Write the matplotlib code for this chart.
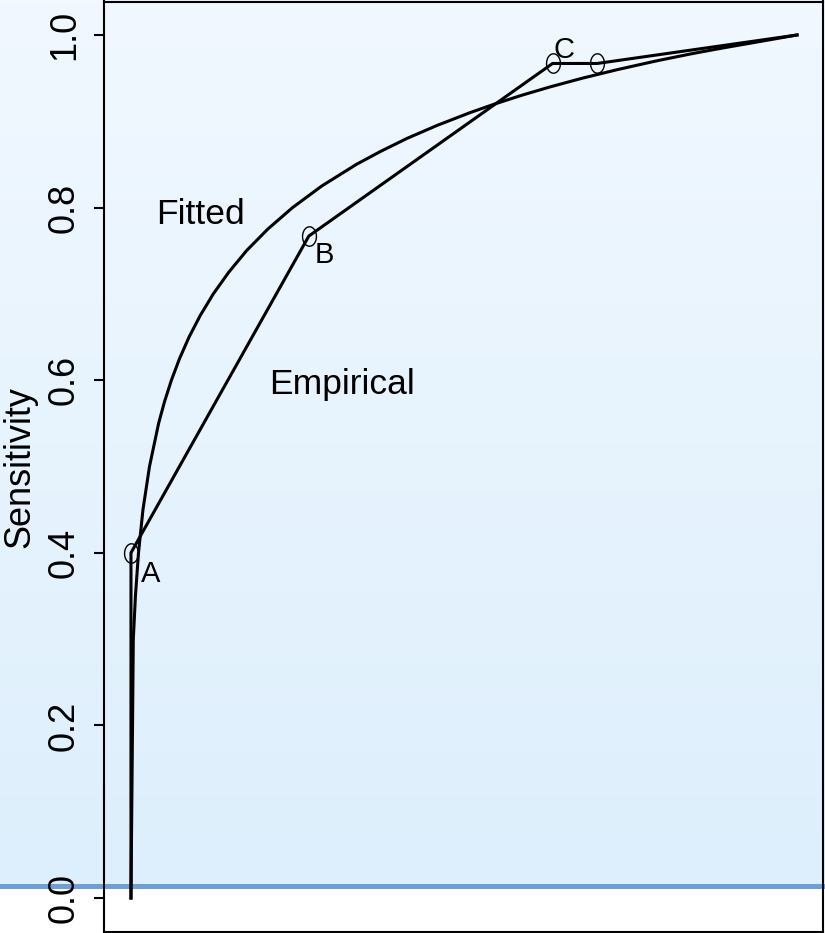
import matplotlib
matplotlib.use("agg")
import numpy as np
import matplotlib.pyplot as plt
from matplotlib.path import Path
from matplotlib.colors import LinearSegmentedColormap

# Empirical ROC points (1 - specificity, sensitivity)
emp_fpr = [0.0, 0.0, 0.267, 0.633, 0.700, 1.0]
emp_tpr = [0.0, 0.400, 0.767, 0.967, 0.967, 1.0]
# operating points that get a circle marker
pt_fpr = [0.0, 0.267, 0.633, 0.700]
pt_tpr = [0.400, 0.767, 0.967, 0.967]

# Fitted (smooth) ROC curve
fit_fpr = [0.0, 0.0035, 0.0067, 0.0113, 0.0180, 0.0278, 0.0415, 0.0503, 0.0607,
           0.0729, 0.0872, 0.104, 0.1236, 0.1467, 0.1734, 0.2053, 0.2426, 0.2864,
           0.3383, 0.3745, 0.414, 0.4589, 0.509, 0.546, 0.586, 0.630, 0.678,
           0.731, 0.789, 0.840, 0.889, 0.941, 1.0]
fit_tpr = [0.0, 0.30, 0.35, 0.40, 0.45, 0.50, 0.55, 0.575, 0.60,
           0.625, 0.65, 0.675, 0.70, 0.725, 0.75, 0.775, 0.80, 0.825,
           0.85, 0.865, 0.88, 0.895, 0.91, 0.92, 0.93, 0.94, 0.95,
           0.96, 0.97, 0.978, 0.985, 0.992, 1.0]

# point labels
lab_text = ["A", "B", "C"]
lab_x = [0.015, 0.275, 0.635]
lab_y = [0.366, 0.736, 0.973]

ytick_vals = [0.0, 0.2, 0.4, 0.6, 0.8, 1.0]
ytick_labels = ["0.0", "0.2", "0.4", "0.6", "0.8", "1.0"]

W, H = 825, 933
fig = plt.figure(figsize=(W / 100, H / 100), dpi=100)
fig.patch.set_facecolor("white")

# background: light blue gradient with a blue rule near the bottom
bg = fig.add_axes([0, 0, 1, 1], zorder=-1)
bg.set_xlim(0, 1)
bg.set_ylim(H, 0)
bg.axis("off")
grad = np.linspace(0, 1, 256).reshape(-1, 1)
cmap = LinearSegmentedColormap.from_list("bgblue", ["#f1f8ff", "#ddeffc"])
bg.imshow(grad, cmap=cmap, extent=[0, 1, 886, 0], aspect="auto", interpolation="bilinear")
bg.axhline(886, color="#6f9fd8", lw=3.6)

ax = fig.add_axes([104 / W, 1.5 / H, 719 / W, 930 / H])
ax.patch.set_alpha(0)

ax.plot(emp_fpr, emp_tpr, color="black", lw=2.2, solid_joinstyle="miter")
ax.plot(fit_fpr, fit_tpr, color="black", lw=2.2)

# slightly tall open circles, as in the original
t = np.linspace(0, 2 * np.pi, 41)
ellipse = Path(np.column_stack([np.cos(t), 1.4 * np.sin(t)]))
ax.plot(pt_fpr, pt_tpr, ls="none", marker=ellipse, ms=14, mfc="none", mec="black", mew=1.0)

font = "Liberation Sans"
for s, x, y in zip(lab_text, lab_x, lab_y):
    ax.text(x, y, s, family=font, fontsize=21, ha="left", va="baseline")
ax.text(0.0375, 0.781, "Fitted", family=font, fontsize=25.5, ha="left", va="baseline")
ax.text(0.207, 0.584, "Empirical", family=font, fontsize=25.5, ha="left", va="baseline")

ax.set_xlim(-0.0405, 1.039)
ax.set_ylim(-0.0388, 1.0388)
ax.set_xticks([])
ax.set_yticks(ytick_vals)
ax.set_yticklabels(ytick_labels, rotation=90, va="center", family=font, fontsize=26)
ax.tick_params(axis="y", length=7, width=1.5, pad=9, color="black")
for sp in ax.spines.values():
    sp.set_linewidth(1.5)

ax.set_ylabel("Sensitivity", family=font, fontsize=26)
ax.yaxis.set_label_coords(-0.092, 0.5)

fig.savefig("out.png", dpi=100)
